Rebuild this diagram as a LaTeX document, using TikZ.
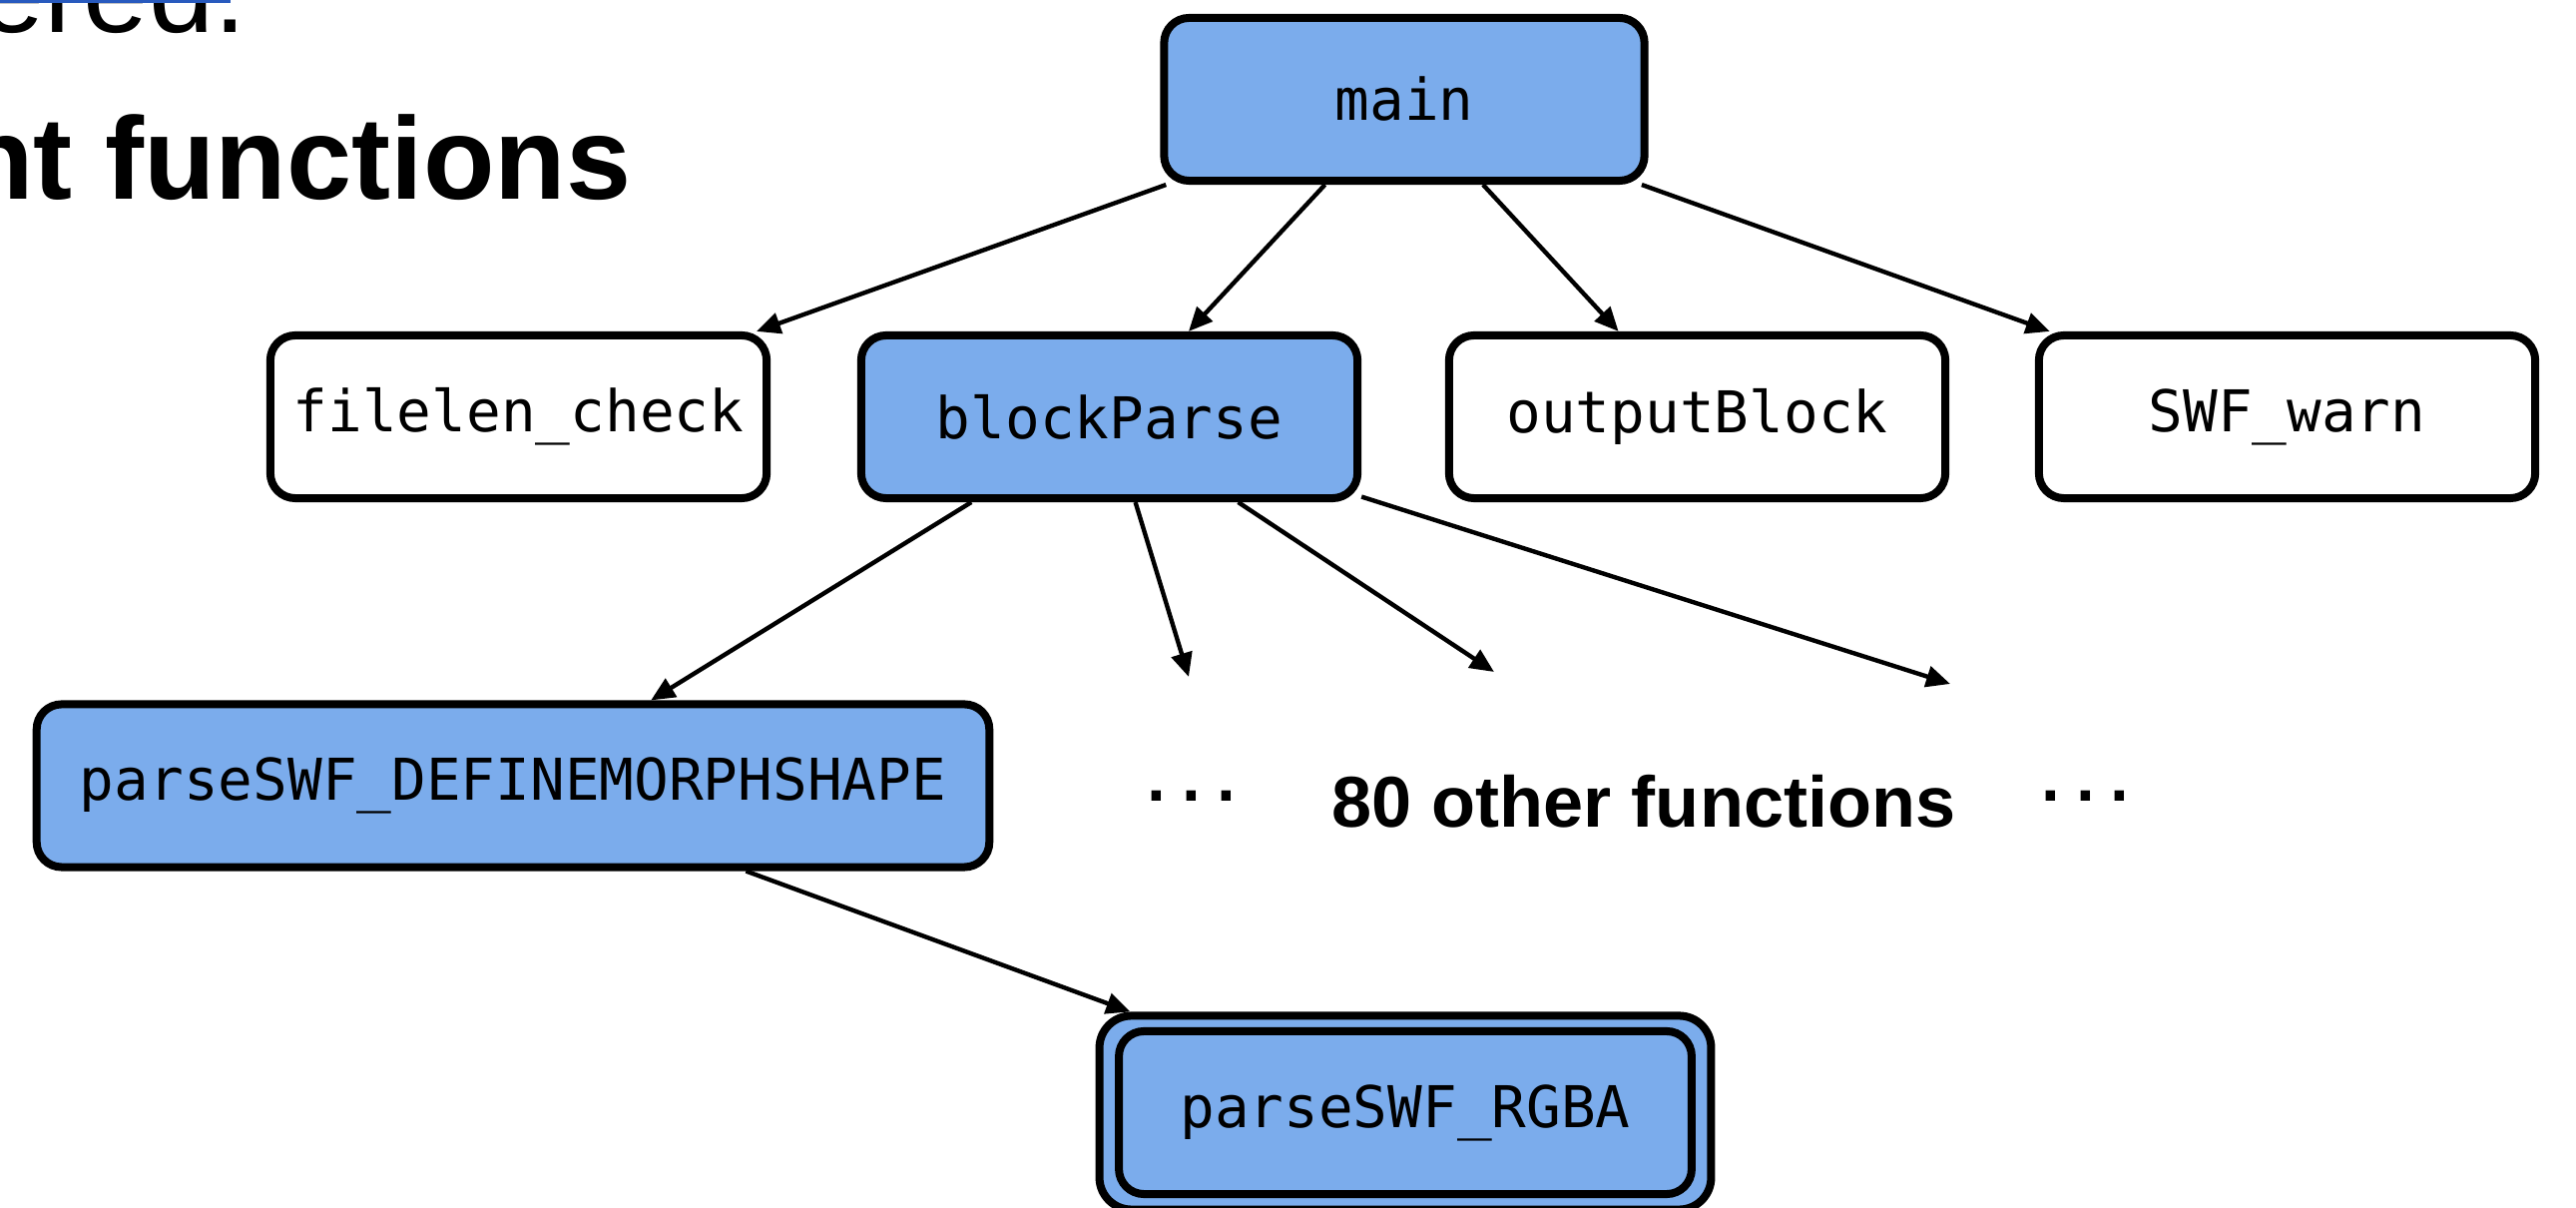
\documentclass[tikz,border=0pt]{standalone}
\usepackage{fontspec}
\setmainfont{Liberation Sans}
\newfontfamily\monof{DejaVu Sans Mono}
\usetikzlibrary{arrows.meta}
\definecolor{nodeblue}{RGB}{123,172,236}
\definecolor{linkblue}{RGB}{40,90,190}
\tikzset{
  fn/.style={draw=black, line width=0.08cm, rounded corners=0.25cm,
    minimum width=4.97cm, minimum height=1.63cm, inner sep=0pt,
    font=\monof\fontsize{16.4}{19}\selectfont},
  hot/.style={fn, fill=nodeblue},
  cold/.style={fn, fill=white},
  edge/.style={line width=0.044cm, -{Triangle[length=0.24cm,width=0.21cm]}},
  plain/.style={inner sep=0pt},
}
\begin{document}
\begin{tikzpicture}[x=0.01cm,y=-0.01cm]
\useasboundingbox (0,0) rectangle (2581,1210);
\clip (0,0) rectangle (2581,1210);

% cut-off slide text
\node[plain, anchor=base east, font=\fontsize{33.3}{40}\selectfont] (t1) at (247.5,33) {ered.};
\fill[linkblue] (0,0) rectangle (231,3);
\node[plain, anchor=base east, font=\bfseries\fontsize{33.3}{40}\selectfont] (t2) at (633,200) {nt functions};

% nodes
\node[hot, minimum width=4.81cm] (main) at (1407,99.5) {main};
\node[cold] (flc) at (519.5,417.5) {filelen\_check};
\node[hot] (bp) at (1111.5,417.5) {blockParse};
\node[cold] (ob) at (1700.5,417.5) {outputBlock};
\node[cold] (sw) at (2291.5,417.5) {SWF\_warn};
\node[hot, minimum width=9.54cm] (dms) at (514,787) {parseSWF\_DEFINEMORPHSHAPE};
\node[hot, minimum width=6.125cm, minimum height=1.94cm, rounded corners=0.32cm] (rgba) at (1408,1114.5) {};
\node[hot, minimum width=5.735cm] (rgbain) at (1408,1114.5) {parseSWF\_RGBA};

% free ends
\coordinate (e1) at (1191,678);
\coordinate (e2) at (1497,673);
\coordinate (e3) at (1954,685);

% edges
\draw[edge] (main) -- (flc);
\draw[edge] (main) -- (bp);
\draw[edge] (main) -- (ob);
\draw[edge] (main) -- (sw);
\draw[edge] (bp) -- (dms);
\draw[edge] (bp) -- (e1);
\draw[edge] (bp) -- (e2);
\draw[edge] (bp) -- (e3);
\draw[edge] (dms) -- (rgba);

% other labels
\node[plain, anchor=base, font=\monof\bfseries\fontsize{16.4}{19}\selectfont] (dots1) at (1194,803) {...};
\node[plain, anchor=base, font=\bfseries\fontsize{20.5}{24}\selectfont] (other) at (1647,829) {80 other functions};
\node[plain, anchor=base, font=\monof\bfseries\fontsize{16.4}{19}\selectfont] (dots2) at (2089.5,803) {...};
\end{tikzpicture}
\end{document}
